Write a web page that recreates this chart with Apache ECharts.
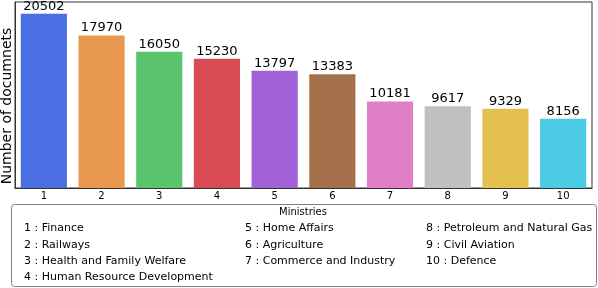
<!DOCTYPE html>
<html><head><meta charset="utf-8">
<script src="https://cdn.jsdelivr.net/npm/echarts@6/dist/echarts.min.js"></script>
<style>html,body{margin:0;padding:0;background:#fff}#c{width:598px;height:288px}</style>
</head><body><div id="c"></div>
<script>
const categories = ['1','2','3','4','5','6','7','8','9','10'];
const values = [20502, 17970, 16050, 15230, 13797, 13383, 10181, 9617, 9329, 8156];
const ministries = ['Finance','Railways','Health and Family Welfare','Human Resource Development','Home Affairs','Agriculture','Commerce and Industry','Petroleum and Natural Gas','Civil Aviation','Defence'];
const colors = ['#4a6fe3','#e8994f','#59c46c','#d84b55','#a062d6','#a3704a','#e07fc5','#c0c0c0','#e3c04f','#4ccbe4'];
const legendColumns = [[0,1,2,3],[4,5,6],[7,8,9]];
const yAxisTitle = 'Number of documnets';
const legendTitle = 'Ministries';

const FONT = 'DejaVu Sans';
const chart = echarts.init(document.getElementById('c'), null, {renderer:'canvas'});

const colX = [24, 245, 426];
const rowY = [228, 245, 261, 277];
const legendTexts = [];
legendColumns.forEach((col, ci) => {
  col.forEach((idx, ri) => {
    legendTexts.push({
      type:'text', x: colX[ci], y: rowY[ri],
      style:{ text: categories[idx] + ' : ' + ministries[idx], font: '11px "' + FONT + '"', fill:'#000', verticalAlign:'middle' }
    });
  });
});

chart.setOption({
  animation:false,
  grid:{ left:15, right:6, top:2, bottom:100, show:true, borderColor:'#333', borderWidth:1, outerBoundsMode:'none', containLabel:false },
  xAxis:{
    type:'category', data:categories,
    axisLine:{ lineStyle:{ color:'#333', width:1 } },
    axisTick:{ alignWithLabel:true, length:3, lineStyle:{ color:'#333' } },
    axisLabel:{ fontFamily:FONT, fontSize:10, color:'#000', margin:3 }
  },
  yAxis:{
    type:'value', min:0, max:21900,
    axisLine:{ show:true, lineStyle:{ color:'#333' } },
    axisTick:{ show:false }, axisLabel:{ show:false }, splitLine:{ show:false }
  },
  series:[{
    type:'bar', barWidth:'80%',
    data: values.map((v,i)=>({ value:v, itemStyle:{ color:colors[i] } })),
    label:{ show:true, position:'top', distance:1, fontFamily:FONT, fontSize:13, color:'#000' }
  }],
  graphic:[
    { type:'text', x:7, y:106, rotation:Math.PI/2,
      style:{ text:yAxisTitle, font:'14px "' + FONT + '"', fill:'#000', align:'center', verticalAlign:'middle' } },
    { type:'rect', shape:{ x:11.5, y:204.5, width:585, height:82, r:3 },
      style:{ fill:'#fff', stroke:'#808080', lineWidth:1 } },
    { type:'text', x:303, y:212, style:{ text:legendTitle, font:'10px "' + FONT + '"', fill:'#000', align:'center', verticalAlign:'middle' } },
    ...legendTexts
  ]
});
</script></body></html>
